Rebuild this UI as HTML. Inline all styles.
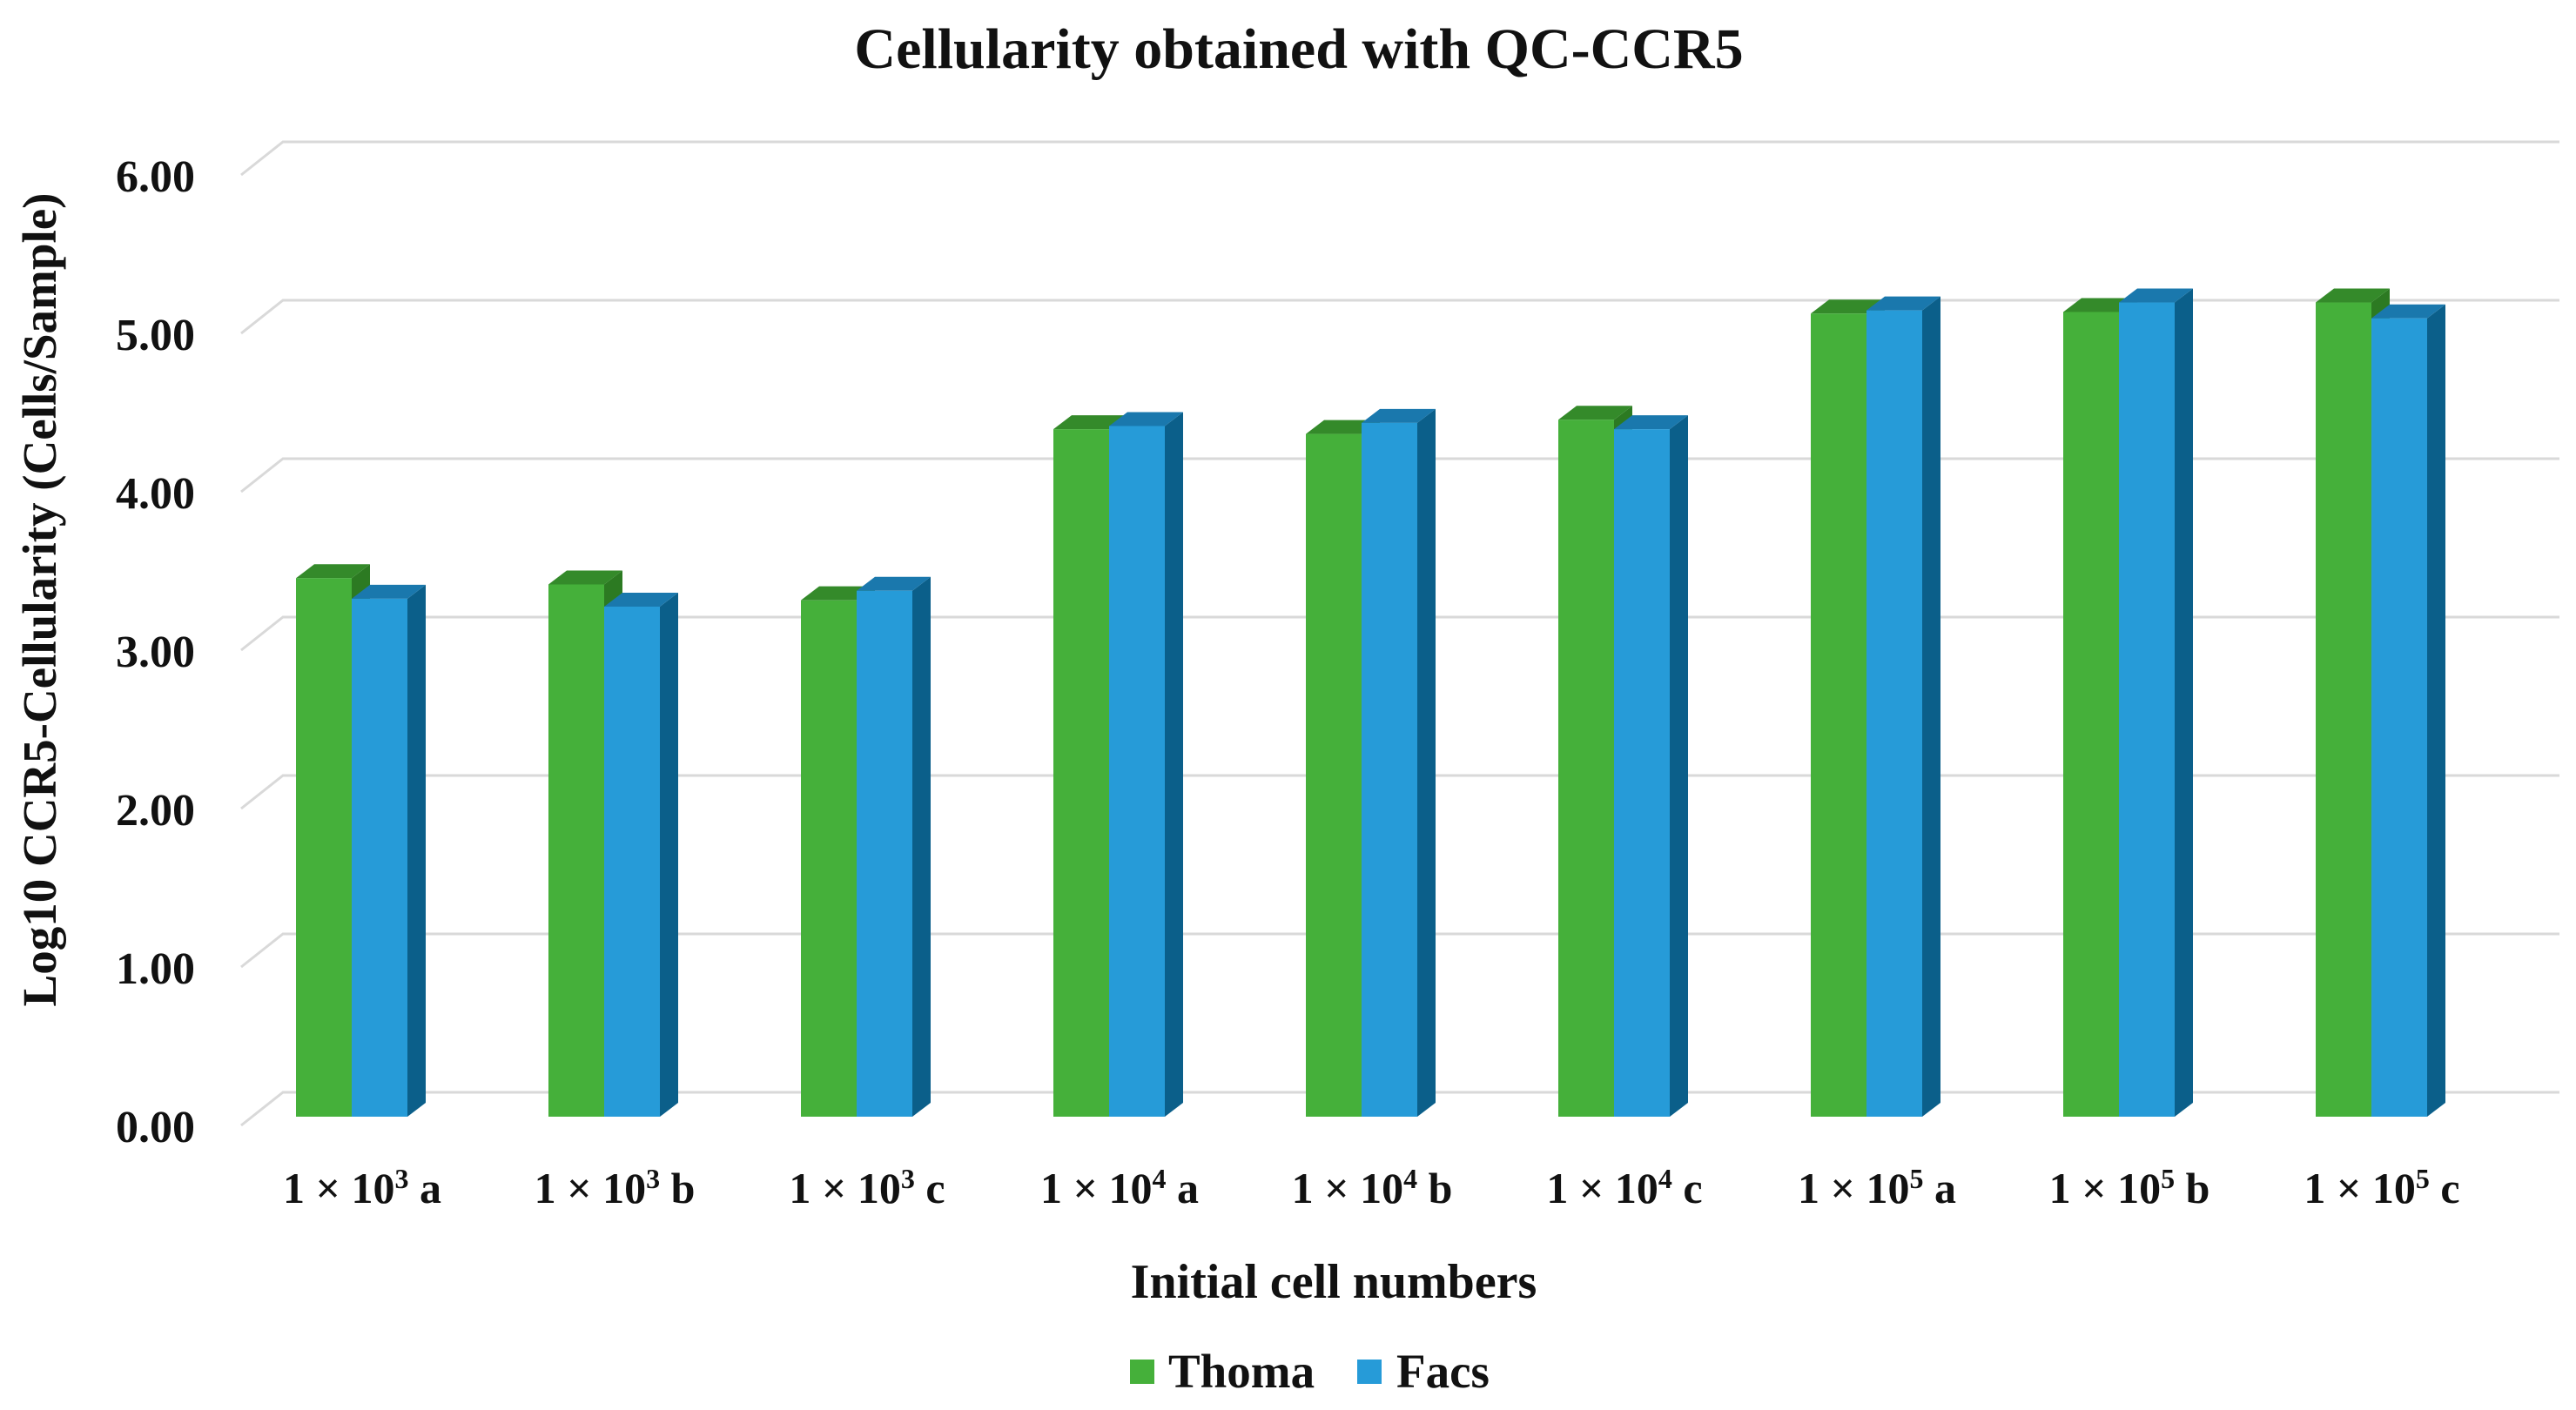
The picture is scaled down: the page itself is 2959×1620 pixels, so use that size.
<!DOCTYPE html>
<html><head><meta charset="utf-8"><style>
html,body{margin:0;padding:0;background:#fff;}
svg{display:block;font-family:"Liberation Serif",serif;font-weight:bold;}
</style></head><body>
<svg id="chart" width="2959" height="1620" viewBox="0 0 2959 1620" xmlns="http://www.w3.org/2000/svg">
<text x="1492" y="78" font-size="66" text-anchor="middle" fill="#111">Cellularity obtained with QC-CCR5</text>
<g id="grid"></g>
<g id="bars"></g>
<g id="xlabels"></g>
<text transform="translate(64,689) rotate(-90)" font-size="55" text-anchor="middle" fill="#111">Log10 CCR5-Cellularity (Cells/Sample)</text>
<text x="1532" y="1491" font-size="56" text-anchor="middle" fill="#111">Initial cell numbers</text>
<g>
<rect x="1298" y="1562" width="28" height="28" fill="#45b03a"/>
<text x="1342" y="1594" font-size="55" fill="#111">Thoma</text>
<rect x="1559" y="1562" width="28" height="28" fill="#269bd8"/>
<text x="1604" y="1594" font-size="55" fill="#111">Facs</text>
</g>
</svg>
<script>
const categories = ["1 × 10|3| a","1 × 10|3| b","1 × 10|3| c","1 × 10|4| a","1 × 10|4| b","1 × 10|4| c","1 × 10|5| a","1 × 10|5| b","1 × 10|5| c"];
const thoma = [3.40, 3.36, 3.26, 4.34, 4.31, 4.40, 5.07, 5.08, 5.14];
const facs = [3.27, 3.22, 3.32, 4.36, 4.38, 4.34, 5.09, 5.14, 5.04];
const yTicks = [0, 1, 2, 3, 4, 5, 6];
const yTickLabels = ["0.00","1.00","2.00","3.00","4.00","5.00","6.00"];

const NS = "http://www.w3.org/2000/svg";
const backZero = 1255, frontZero = 1283, unit = 182;
const backLeft = 325, frontLeft = 277, right = 2940;
const firstCenter = 404, groupStep = 290, barW = 64, dx = 21, dy = 16;
function yBack(v){ return backZero - v*unit; }
function yFront(v){ return frontZero - v*unit; }
function xCenter(i){ return firstCenter + i*groupStep; }
function mk(tag, attrs, parent){ const e=document.createElementNS(NS,tag); for(const k in attrs) e.setAttribute(k,attrs[k]); parent.appendChild(e); return e; }

const grid=document.getElementById('grid');
yTicks.forEach((t,i)=>{
  const y=yBack(t);
  const l=mk('polyline',{points:`${frontLeft},${y+38} ${backLeft},${y} ${right},${y}`,fill:'none',stroke:'#d9d9d9','stroke-width':3},grid);
  
  
  const tx=mk('text',{x:224,y:y+57,'font-size':52,'text-anchor':'end',fill:'#111'},grid);
  tx.textContent=yTickLabels[i];
  
  
});

const bars=document.getElementById('bars');
function bar(x,v,front,top,side,name){
  const g=mk('g',{},bars);
  
  
  const yt=yFront(v);
  mk('polygon',{points:`${x+barW},${yt} ${x+barW+dx},${yt-dy} ${x+barW+dx},${frontZero-dy} ${x+barW},${frontZero}`,fill:side},g);
  mk('polygon',{points:`${x},${yt} ${x+dx},${yt-dy} ${x+barW+dx},${yt-dy} ${x+barW},${yt}`,fill:top},g);
  mk('rect',{x:x,y:yt,width:barW,height:frontZero-yt,fill:front},g);
}
categories.forEach((c,i)=>{
  const cx=xCenter(i);
  bar(cx-barW,thoma[i],'#45b03a','#348a2a','#2c7a22','bar-thoma-'+(i+1));
  bar(cx,facs[i],'#269bd8','#1a78ad','#0b5f8a','bar-facs-'+(i+1));
  const parts=c.split('|');
  const t=mk('text',{x:cx+12,y:1382,'font-size':50,'text-anchor':'middle',fill:'#111'},document.getElementById('xlabels'));
  
  
  const a=document.createElementNS(NS,'tspan'); a.textContent=parts[0]; t.appendChild(a);
  const b=document.createElementNS(NS,'tspan'); b.textContent=parts[1]; b.setAttribute('font-size','32'); b.setAttribute('dy','-17'); t.appendChild(b);
  const d=document.createElementNS(NS,'tspan'); d.textContent=parts[2]; d.setAttribute('dy','17'); t.appendChild(d);
});
</script>
</body></html>
